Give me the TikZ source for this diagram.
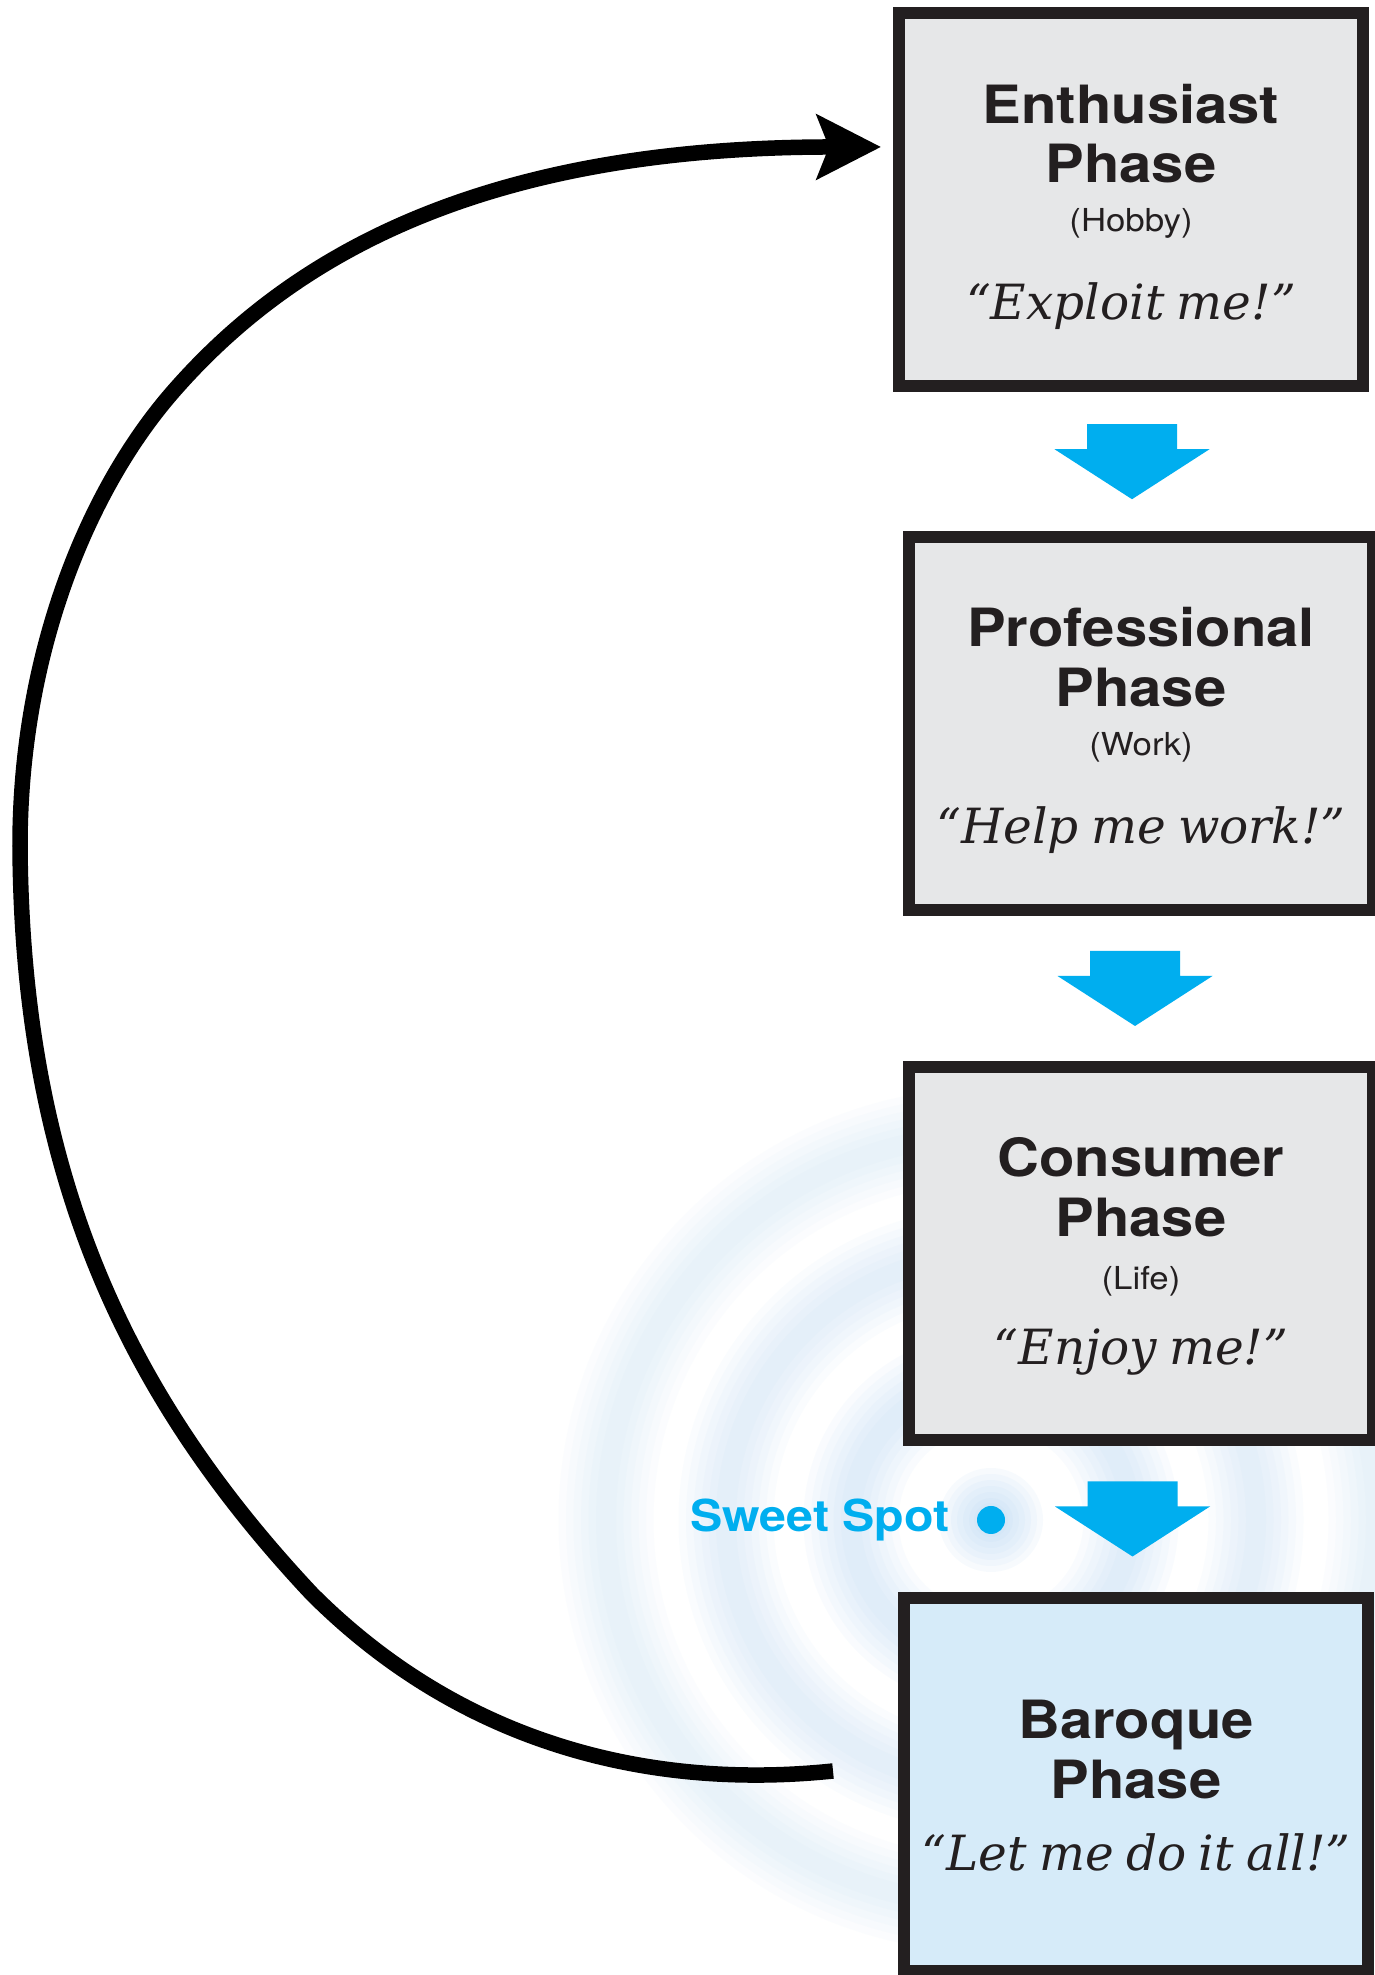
\documentclass[tikz,border=0pt]{standalone}
\usepackage{fontspec}
\usepackage{xcolor}
\usetikzlibrary{arrows.meta, backgrounds, calc, positioning}
\newfontfamily\headfont[FakeStretch=1.1]{TeX Gyre Heros}
\newfontfamily\quotefont[WordSpace=0.8]{DejaVu Serif}
\newcommand\phasesub[1]{{\fontsize{9}{9}\selectfont #1}}
\newcommand\phasequote[1]{{\quotefont\itshape\fontsize{13.8}{13.8}\selectfont #1}}
\definecolor{phaseblue}{HTML}{00AEEF}
\definecolor{boxgray}{HTML}{E6E7E8}
\definecolor{boxline}{HTML}{231F20}
\definecolor{baroquefill}{HTML}{D6EBF9}
\definecolor{ringblue}{HTML}{B4D7F5}
\tikzset{> = {Stealth[length = 6.4mm, width = 6.4mm, inset = 1.2mm]}}
\tikzset{
	phasebox/.style = {draw = boxline, fill = boxgray, line width = 1.2mm, minimum width = 4.64cm, minimum height = 3.73cm, inner sep = 0pt, align = center, text = boxline, font = \headfont\fontsize{15}{17}\selectfont},
	phase arrow/.pic = {\fill [phaseblue] (-0.45, 0.375) -- (0.45, 0.375) -- (0.45, 0.125) -- (0.775, 0.125) -- (0, -0.375) -- (-0.775, 0.125) -- (-0.45, 0.125) -- cycle;}
}
\begin{document}
\begin{tikzpicture}
		\useasboundingbox (0, 0) rectangle (13.75, 19.75);
		\node [phasebox] (enth) at (11.31, 17.75) {\rule{0pt}{15pt}\textbf{Enthusiast}\\\textbf{Phase}\\[-3.1pt]\phasesub{(Hobby)}\\[8pt]\phasequote{“Exploit me!”}};
		\node [phasebox] (prof) at (11.41, 12.515) {\rule{0pt}{15pt}\textbf{Professional}\\\textbf{Phase}\\[-3.1pt]\phasesub{(Work)}\\[8pt]\phasequote{“Help me work!”}};
		\node [phasebox] (cons) at (11.41, 7.215) {\rule{0pt}{12.7pt}\textbf{Consumer}\\\textbf{Phase}\\[-2pt]\phasesub{(Life)}\\[4.3pt]\phasequote{“Enjoy me!”}};
		\node [phasebox, fill = baroquefill] (baroque) at (11.36, 1.905) {\rule{0pt}{11.6pt}\textbf{Baroque}\\\textbf{Phase}\\[3.7pt]\phasequote{“Let me do it all!”}};

		\pic at ($(enth.south)!0.5!(prof.north) + (-0.04, 0)$) {phase arrow};
		\pic at ($(prof.south)!0.5!(cons.north) + (-0.06, 0)$) {phase arrow};
		\pic at ($(cons.south)!0.5!(baroque.north) + (-0.06, 0)$) {phase arrow};

		\node [circle, fill = phaseblue, minimum size = 2.8mm, inner sep = 0pt] (sweet) at (9.91, 4.55) {};
		\node [left = 2.6mm of sweet, inner sep = 0pt, text = phaseblue, font = \headfont\bfseries\fontsize{12.5}{15}\selectfont] (sweetlabel) {Sweet Spot};

		\coordinate (loopstart) at ([xshift = -6.5mm, yshift = 1.35mm]baroque.west);
		\coordinate (loopend) at ([xshift = -1.2mm, yshift = 5.3mm]enth.west);
		\draw [->, line width = 1.55mm] (loopstart) .. controls (6.50, 1.85) and (4.62, 2.31) .. (3.12, 3.81) .. controls (1.30, 5.75) and (0.22, 7.95) .. (0.20, 11.29) .. controls (0.20, 13.25) and (0.90, 14.875) .. (1.72, 15.82) .. controls (2.90, 17.18) and (4.80, 18.28) .. (loopend);

		\begin{scope}[on background layer]
			\fill [white] (0, 0) rectangle (13.75, 19.75);
			\foreach \r/\o in {1.40/0.08, 2.65/0.065, 3.85/0.05}
				\foreach \w in {0.95cm, 0.8cm, 0.65cm, 0.5cm, 0.35cm, 0.2cm}
					\draw [ringblue, line width = \w, opacity = \o] (sweet) circle (\r);
			\foreach \g in {0.52, 0.46, 0.40, 0.34, 0.28, 0.22, 0.17}
				\fill [ringblue, opacity = 0.1] (sweet) circle (\g);
		\end{scope}
	\end{tikzpicture}
\end{document}
